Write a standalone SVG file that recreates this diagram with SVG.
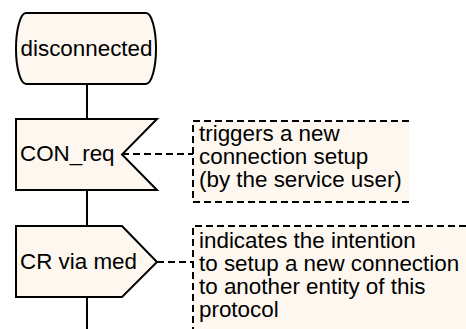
<svg xmlns="http://www.w3.org/2000/svg" width="466" height="329" viewBox="0 0 466 329">
  <style>
    .shape { fill: #fdf7ef; stroke: #000; stroke-width: 2; stroke-linejoin: miter; }
    .flow { stroke: #000; stroke-width: 2; fill: none; }
    .dash { stroke: #000; stroke-width: 2; fill: none; stroke-dasharray: 7 4; }
    .note { fill: #fdf7ef; stroke: none; }
    text { font-family: "Liberation Sans", Arial, sans-serif; font-size: 22.4px; fill: #000; }
  </style>

  <!-- flow line and comment connectors -->
  <g id="connectors">
    <line class="flow" x1="87" y1="84" x2="87" y2="119"/>
    <line class="flow" x1="87" y1="190" x2="87" y2="226"/>
    <line class="flow" x1="87" y1="297" x2="87" y2="329"/>
    <line class="dash" x1="122" y1="154" x2="193" y2="154"/>
    <line class="dash" x1="157" y1="262" x2="193" y2="262"/>
  </g>

  <!-- state -->
  <g id="state-disconnected">
    <path class="shape" d="M26,13 H146 A10,35.5 0 0 1 146,84 H26 A10,35.5 0 0 1 26,13 Z"/>
    <text x="86.5" y="56" text-anchor="middle">disconnected</text>
  </g>

  <!-- input signal -->
  <g id="input-con-req">
    <path class="shape" d="M16,119 H157 L122,154.5 L157,190 H16 Z"/>
    <text x="20" y="161">CON_req</text>
  </g>

  <!-- output signal -->
  <g id="output-cr">
    <path class="shape" d="M16,226 H122 L157,262 L122,297 H16 Z"/>
    <text x="20" y="269">CR via med</text>
  </g>

  <!-- comment on the input -->
  <g id="comment-input">
    <rect class="note" x="193" y="121" width="216" height="81"/>
    <path class="dash" d="M409,121 H193 V202 H409"/>
    <text x="199" y="141">triggers a new</text>
    <text x="199" y="164">connection setup</text>
    <text x="199" y="187">(by the service user)</text>
  </g>

  <!-- comment on the output -->
  <g id="comment-output">
    <rect class="note" x="193" y="226" width="273" height="103"/>
    <path class="dash" d="M466,226 H193 V329"/>
    <text x="199" y="248">indicates the intention</text>
    <text x="199" y="271">to setup a new connection</text>
    <text x="199" y="294">to another entity of this</text>
    <text x="199" y="317">protocol</text>
  </g>
</svg>
